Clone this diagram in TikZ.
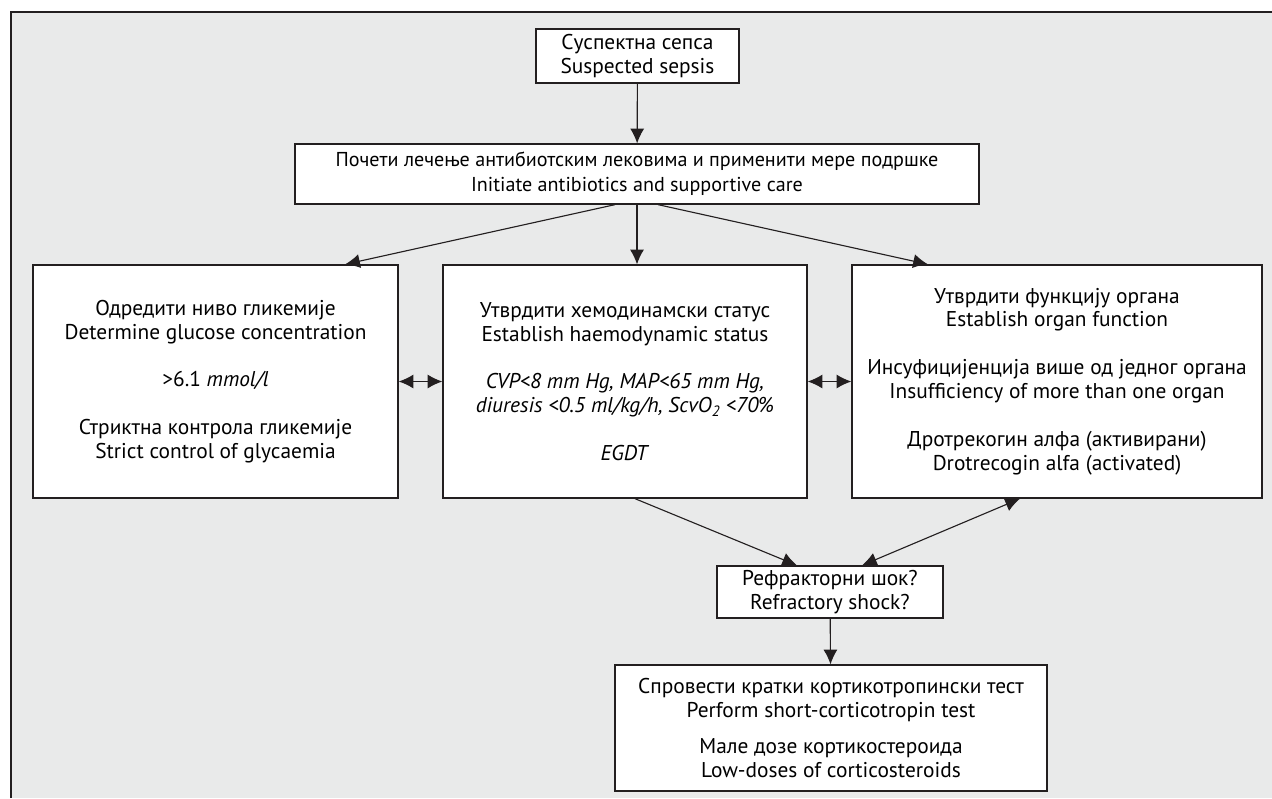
\documentclass[tikz,border=0pt]{standalone}
\usepackage{fontspec}
\setmainfont{PT Sans}
\usetikzlibrary{arrows.meta, calc, positioning}

\definecolor{panel}{HTML}{E9EAEA}
\definecolor{ink}{HTML}{231F20}

\tikzset{
  box/.style={draw=ink, line width=0.9pt, fill=white, align=center, inner sep=0pt,
    font=\fontsize{15.2}{17}\selectfont},
  link/.style={draw=ink, line width=0.8pt},
}

\begin{document}
\begin{tikzpicture}[x=0.025cm, y=-0.025cm, >={Latex[length=10.5pt,width=10pt]}]
  \useasboundingbox (0,0) rectangle (1272,798);
  \fill[white] (0,0) rectangle (1272,798);
  \fill[panel] (11,12) rectangle (1272,798);
  \draw[ink, line width=0.9pt] (11,798) -- (11,12) -- (1272,12);

  % boxes
  \node[box, minimum width=5.075cm, minimum height=1.35cm] (sepsis) at (637.5,56)
    {Суспектна сепса\\Suspected sepsis};
  \node[box, minimum width=17.1cm, minimum height=1.5cm, font=\fontsize{14.3}{18}\selectfont]
    (initiate) at (637,174)
    {Почети лечење антибиотским лековима и применити мере подршке\\Initiate antibiotics and supportive care};
  \node[box, minimum width=9.125cm, minimum height=5.825cm] (glucose) at (215.5,381.5)
    {Одредити ниво гликемије\\Determine glucose concentration\\[17pt]
     >6.1 \textit{mmol/l}\\[17pt]
     Стриктна контрола гликемије\\Strict control of glycaemia};
  \node[box, minimum width=9.1cm, minimum height=5.825cm] (haemo) at (625,381.5)
    {Утврдити хемодинамски статус\\Establish haemodynamic status\\[17pt]
     \textit{CVP<8 mm Hg, MAP<65 mm Hg,}\\
     \textit{diuresis <0.5 ml/kg/h, ScvO\textsubscript{2} <70\%}\\[17pt]
     \textit{EGDT}};
  \node[box, minimum width=10.25cm, minimum height=5.825cm] (organ) at (1057,381.5)
    {Утврдити функцију органа\\Establish organ function\\[17pt]
     Инсуфицијенција више од једног органа\\Insufficiency of more than one organ\\[17pt]
     Дротрекогин алфа (активирани)\\Drotrecogin alfa (activated)};
  \node[box, minimum width=5.65cm, minimum height=1.3cm] (shock) at (830,592)
    {Рефракторни шок?\\Refractory shock?};
  \node[box, minimum width=10.8cm, minimum height=3.15cm] (cortico) at (831,728)
    {Спровести кратки кортикотропински тест\\Perform short-corticotropin test\\[9pt]
     Мале дозе кортикостероида\\Low-doses of corticosteroids};

  % connectors
  \draw[link, ->] (sepsis) -- (initiate);
  \draw[link, ->] ([xshift=-0.55cm]initiate.south) -- ([xshift=3.24cm]glucose.north);
  \draw[link, ->] (initiate.south) -- (initiate.south |- haemo.north);
  \draw[link, ->] ([xshift=0.525cm]initiate.south) -- ([xshift=-3.225cm]organ.north);
  \draw[link, <->] (glucose.east) -- (haemo.west);
  \draw[link, <->] (haemo.east) -- (organ.west);
  \draw[link, ->] ([xshift=0.25cm]haemo.south) -- ([xshift=-0.825cm]shock.north);
  \draw[link, <->] ([xshift=-0.925cm]organ.south) -- ([xshift=0.8cm]shock.north);
  \draw[link, ->] (shock) -- (cortico);
\end{tikzpicture}
\end{document}
